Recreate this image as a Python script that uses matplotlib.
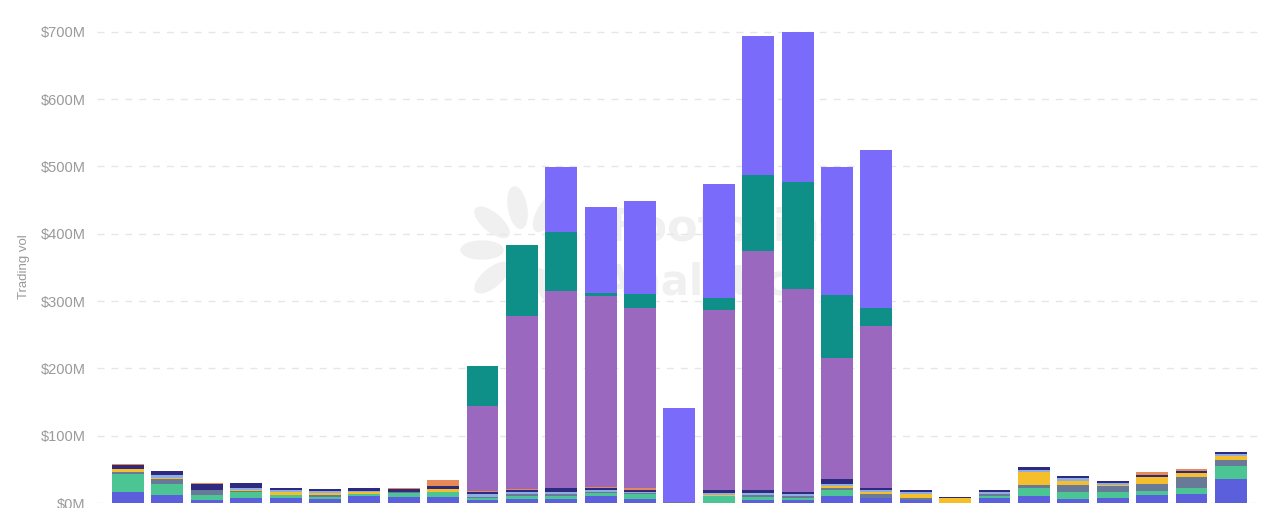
import numpy as np
import matplotlib
matplotlib.use("Agg")
import matplotlib.pyplot as plt
from matplotlib.patches import Ellipse

##########################################################################
#   Daily trading volume ($M) per series, stacked bottom -> top
##########################################################################
blue      = [16, 12, 5, 7, 7, 6, 10, 9, 9, 5, 6, 6, 10, 6, 0, 0, 5, 4, 10, 8, 4, 0, 8, 11, 6, 8, 12, 13, 35]
green     = [27, 16, 7, 9, 5, 3, 4, 6, 8, 3, 4, 4, 5, 7, 0, 10, 4, 3, 10, 0, 0, 0, 3, 12, 10, 8, 6, 10, 20]
slate     = [3, 8, 7, 2, 0, 3, 0, 2, 0, 1, 3, 4, 2, 2, 1, 0, 3, 4, 2, 5, 3, 0, 3, 3.5, 10, 9, 10, 16, 9]
yellow    = [4, 1, 0, 1, 4, 3, 2, 0, 4, 0, 0, 0, 0, 0, 1, 2, 0, 0, 3, 4, 6, 7, 0, 20, 7, 1, 11, 5, 6]
lightblue = [1, 5, 1, 3, 3, 3, 2, 0, 0, 4, 4, 3, 3, 2, 0, 3, 3, 2, 3, 3, 4, 0, 2, 3, 4, 3.5, 0, 0, 3.5]
navy      = [6, 5, 8, 8, 4, 2.5, 4, 4, 4, 4, 3, 5, 3, 3, 0, 5, 5, 4, 7, 3, 2, 2, 4, 3.5, 2.5, 3.5, 2.5, 3.5, 2]
orange    = [1, 1, 1, 0, 0, 0, 0, 1.5, 9, 1, 1, 0, 1, 2, 0, 0, 0, 0, 0, 0, 0, 0, 0, 0, 0, 0, 4, 3.5, 0]
purple    = [0, 0, 0, 0, 0, 0, 0, 0, 0, 126, 257, 293, 283, 268, 0, 266, 354, 301, 180, 240, 0, 0, 0, 0, 0, 0, 0, 0, 0]
teal      = [0, 0, 0, 0, 0, 0, 0, 0, 0, 59, 105, 88, 5, 20, 0, 18, 113, 159, 94, 27, 0, 0, 0, 0, 0, 0, 0, 0, 0]
violet    = [0, 0, 0, 0, 0, 0, 0, 0, 0, 0, 0, 96, 127, 139, 139, 170, 207, 223, 190, 235, 0, 0, 0, 0, 0, 0, 0, 0, 0]

seriesList = [blue, green, slate, yellow, lightblue, navy, orange, purple, teal, violet]
colorList = ['#5c5fdb', '#4bc593', '#687a98', '#f4bf2a', '#8eaee3',
             '#2d2a80', '#e8895a', '#9a69bf', '#0e8f88', '#7a6bfa']

yTicks = [0, 100, 200, 300, 400, 500, 600, 700]


def drawWatermark(fig, ax):
    # faint logo + text behind the bars
    cx, cy = 5.25, 2.58
    for ang in [180, 140, 100, 60, 220, 260, 300]:
        r = 0.43
        px = cx + r * np.cos(np.radians(ang))
        py = cy + r * np.sin(np.radians(ang))
        e = Ellipse((px, py), 0.42, 0.18, angle=ang,
                    transform=fig.dpi_scale_trans, color='#f0f0f0', zorder=0.2)
        ax.add_artist(e)
    ax.text(0.569, 0.551, 'Footprint', transform=fig.transFigure, ha='center', va='center',
            fontsize=32, fontweight='bold', color='#f0f0f0', zorder=0.3)
    ax.text(0.555, 0.443, 'Analytics', transform=fig.transFigure, ha='center', va='center',
            fontsize=30, fontweight='bold', color='#f0f0f0', zorder=0.3)


fig = plt.figure(figsize=(12.75, 5.08), dpi=100)
ax = fig.add_axes([0.0761, 0.00984, 0.912, 0.990])

x = np.arange(len(blue))
bottom = np.zeros(len(blue))
for vals, col in zip(seriesList, colorList):
    vals = np.array(vals, dtype=float)
    ax.bar(x, vals, width=0.81, bottom=bottom, color=col, zorder=2)
    bottom += vals

drawWatermark(fig, ax)

ax.set_xlim(-0.787, 28.736)
ax.set_ylim(0, 747)
ax.set_yticks(yTicks)
ax.set_yticklabels(['$' + str(v) + 'M' for v in yTicks], fontsize=10.5,
                   color='#9a9a9a', family='Liberation Sans')
ax.tick_params(axis='y', length=0, pad=8)
ax.set_xticks([])
ax.grid(axis='y', color='#e6e6e6', linestyle=(0, (5, 5)), linewidth=1, zorder=0.1)
ax.set_axisbelow(True)
for s in ax.spines.values():
    s.set_visible(False)

ax.set_ylabel('Trading vol', fontsize=9.5, color='#9a9a9a', family='Liberation Sans')
ax.yaxis.set_label_coords(-0.0576, 0.471)

plt.savefig('out.png', format='png', dpi=100)
